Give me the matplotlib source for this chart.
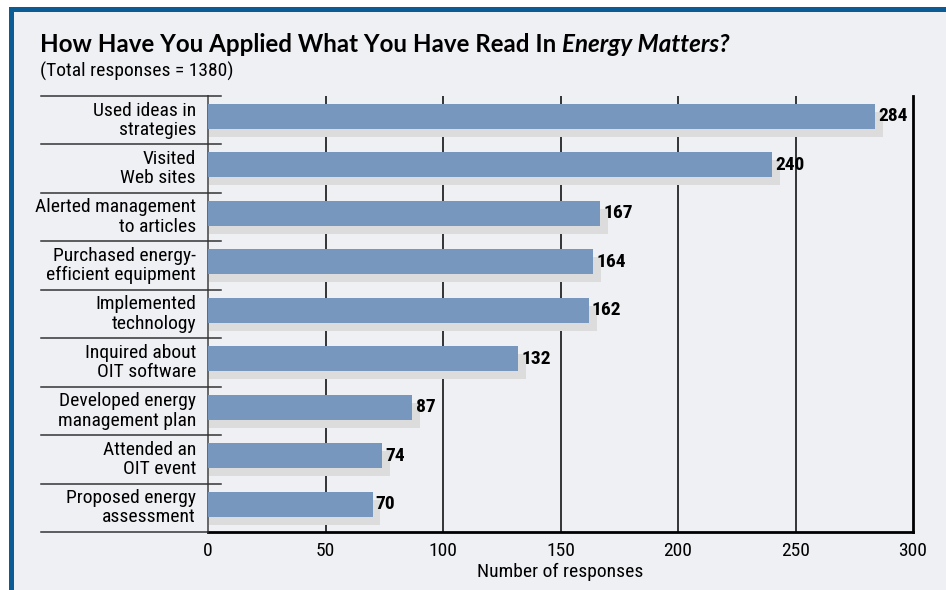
""" Energy Matters survey bar chart """
import matplotlib
matplotlib.use("Agg")
import matplotlib.pyplot as plt
from matplotlib import font_manager
from matplotlib.patches import Rectangle
import numpy as np

""" Data """
categories = [
    "Used ideas in\nstrategies",
    "Visited\nWeb sites",
    "Alerted management\nto articles",
    "Purchased energy-\nefficient equipment",
    "Implemented\ntechnology",
    "Inquired about\nOIT software",
    "Developed energy\nmanagement plan",
    "Attended an\nOIT event",
    "Proposed energy\nassessment",
]
responses = [284, 240, 167, 164, 162, 132, 87, 74, 70]
x_ticks = [0, 50, 100, 150, 200, 250, 300]

""" Fonts """
names = {f.name for f in font_manager.fontManager.ttflist}
narrow = "DejaVu Sans"
for cand in ["Liberation Sans Narrow", "Roboto Condensed", "Open Sans Condensed", "Arial Narrow"]:
    if cand in names:
        narrow = cand
        break
title_font = "Lato" if "Lato" in names else "DejaVu Sans"

""" Colours """
bg = "#eff0f4"
blue_bar = "#7897bf"
shadow = "#dcdcdc"
border = "#0b5c94"

W, H = 946, 590
fig = plt.figure(figsize=(W / 100, H / 100), dpi=100, facecolor="white")

# panel background + blue border
fig.patches.append(Rectangle((9 / W, 0), 1, 1 - 7 / H, transform=fig.transFigure,
                             facecolor=bg, edgecolor="none", zorder=-10))
fig.patches.append(Rectangle((9 / W, 1 - 12 / H), 1, 5 / H, transform=fig.transFigure,
                             facecolor=border, edgecolor="none", zorder=-9))
fig.patches.append(Rectangle((9 / W, 0), 5 / W, 1 - 7 / H, transform=fig.transFigure,
                             facecolor=border, edgecolor="none", zorder=-9))

ax = fig.add_axes([208 / W, 1 - 532 / H, 705 / W, 436 / H])
ax.set_facecolor("none")

n = len(categories)
y = np.arange(n)
bar_h = 0.517
ax.barh(y + 0.088, np.array(responses) + 3.4, height=bar_h, color=shadow, zorder=2)
ax.barh(y - 0.077, responses, height=bar_h, color=blue_bar, zorder=3)

for yi, v in zip(y, responses):
    ax.text(v + 1.3, yi - 0.077, str(v), ha="left", va="center", fontsize=14,
            fontweight="bold", family=narrow, zorder=4)

ax.set_xlim(0, 300)
ax.set_ylim(n - 0.5, -0.5)
for xt in x_ticks[1:-1]:
    ax.axvline(xt, color="black", lw=1.1, zorder=1)

ax.set_yticks([])
ax.set_xticks(x_ticks)
ax.set_xticklabels([str(t) for t in x_ticks], fontsize=14, family=narrow)
ax.tick_params(axis="x", length=0, pad=7)
ax.set_xlabel("Number of responses", fontsize=14, family=narrow, labelpad=2)

ax.spines["top"].set_visible(False)
ax.spines["left"].set_color("#666666")
ax.spines["left"].set_linewidth(1.4)
ax.spines["right"].set_linewidth(2)
ax.spines["bottom"].set_linewidth(2)

# category labels and row separators
tr = ax.get_yaxis_transform()
for i, lab in enumerate(categories):
    ax.text(-0.017, i, lab, transform=tr, ha="right", va="center", multialignment="right",
            fontsize=14, family=narrow, linespacing=1.1)
for b in np.arange(n + 1) - 0.5:
    x1 = 0 if b == n - 0.5 else 0.0184
    ax.plot([-0.2369, x1], [b, b], transform=tr, color="#333333", lw=1.1, clip_on=False, zorder=5)

# title in two styles
renderer = fig.canvas.get_renderer()
t1 = fig.text(40 / W, 1 - 52 / H, "How Have You Applied What You Have Read In ",
              fontsize=17.4, fontweight="bold", family=title_font, va="baseline")
bb = t1.get_window_extent(renderer)
fig.text(bb.x1 / W, 1 - 52 / H, "Energy Matters?", fontsize=17.4, fontweight="bold",
         style="italic", family=title_font, va="baseline")
fig.text(40 / W, 1 - 77 / H, "(Total responses = 1380)", fontsize=14, family=narrow, va="baseline")

fig.savefig("out.png", dpi=100, facecolor="white")
